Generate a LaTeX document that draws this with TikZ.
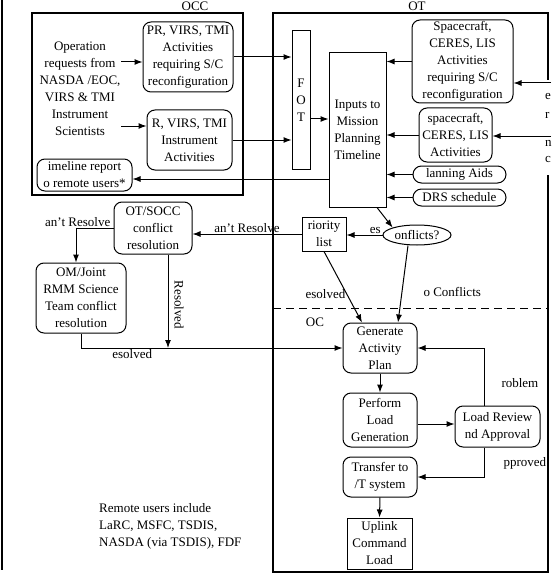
\documentclass[tikz,border=0pt]{standalone}
\usepackage{fontspec}
\setmainfont{Liberation Serif}
\usetikzlibrary{arrows.meta,calc,shapes.geometric}

\begin{document}
\begin{tikzpicture}[
    x=1pt, y=-1pt,
    >={Latex[length=8pt, width=6pt]},
    every node/.style={font=\fontsize{13}{17}\selectfont, inner sep=1pt},
    rbox/.style={draw, line width=1pt, rounded corners=8pt, align=center},
    sbox/.style={draw, line width=1pt, align=center},
    pill/.style={draw, line width=1pt, rounded corners=8.5pt, align=center, minimum width=93pt, minimum height=17pt, inner sep=0pt},
    frame/.style={line width=1.2pt},
    flow/.style={->, line width=1pt}
]

% Page
\useasboundingbox (0,0) rectangle (551,583);
\draw[frame] (2,0) -- (2,570);

% 1. OCC FRAME
\node[inner sep=0pt] (occtitle) at (195,6) {OCC};
\draw[frame] (32,13) rectangle (243,195);

\node[align=center] (opreq) at (80,89) {Operation\\requests from\\NASDA /EOC,\\VIRS \& TMI\\Instrument\\Scientists};
\coordinate (reqA) at (121,62);
\coordinate (reqB) at (121,126);

\node[rbox, minimum width=90pt, minimum height=70pt] (prsc) at (188,57) {PR, VIRS, TMI\\Activities\\requiring S/C\\reconfiguration};
\node[rbox, minimum width=85pt, minimum height=60pt] (prinst) at (189.5,140) {R, VIRS, TMI\\Instrument\\Activities};
\node[rbox, minimum width=95pt, minimum height=32pt] (tlrep) at (84.5,175) {imeline report\\o remote users*};

% 2. OT FRAME (right side broken by cut-off text)
\node[inner sep=0pt] (ottitle) at (417,6) {OT};
\draw[frame] (548,80) -- (548,13) -- (273,13) -- (273,572) -- (548,572) -- (548,175);
\node[anchor=west] (cutA) at (544,97) {e};
\node[anchor=west] (cutB) at (544,115) {r};
\node[anchor=west] (cutC) at (544,143) {n};
\node[anchor=west] (cutD) at (544,160) {c};
\coordinate (extA) at (551,83);
\coordinate (extB) at (551,136);

\node[sbox, minimum width=18pt, minimum height=138pt] (fot) at (301,100) {F\\O\\T};
\node[sbox, minimum width=57pt, minimum height=154pt] (inputs) at (357.5,130) {Inputs to\\Mission\\Planning\\Timeline};

\node[rbox, minimum width=101pt, minimum height=83pt] (sccr) at (462.5,61.5) {Spacecraft,\\CERES, LIS\\Activities\\requiring S/C\\reconfiguration};
\node[rbox, minimum width=73pt, minimum height=54pt] (scact) at (455.5,135) {spacecraft,\\CERES, LIS\\Activities};
\node[pill] (aids) at (459.5,174.5) {lanning Aids};
\node[pill] (drs) at (459.5,197.5) {DRS schedule};

\node[draw, line width=1pt, ellipse, minimum width=68pt, minimum height=20pt, inner sep=0pt] (conf) at (417,235) {onflicts?};
\node[sbox, minimum width=44pt, minimum height=34pt] (prio) at (324,234) {riority\\list};

% 3. CONFLICT RESOLUTION
\node[rbox, minimum width=78pt, minimum height=52pt] (socc) at (153,228) {OT/SOCC\\conflict\\resolution};
\node[rbox, minimum width=90pt, minimum height=70pt] (joint) at (81,298) {OM/Joint\\RMM Science\\Team conflict\\resolution};

% 4. OC SECTION
\draw[dashed, dash pattern=on 8pt off 5pt, line width=1pt] (273,308) -- (548,308);
\node (octitle) at (315,322) {OC};

\node[rbox, minimum width=74pt, minimum height=50pt] (gen) at (380,348) {Generate\\Activity\\Plan};
\node[rbox, minimum width=74pt, minimum height=54pt] (perf) at (380,420) {Perform\\Load\\Generation};
\node[rbox, minimum width=85pt, minimum height=41pt] (rev) at (497.5,426.5) {Load Review\\nd Approval};
\node[rbox, minimum width=74pt, minimum height=40pt] (xfer) at (380,477) {Transfer to\\/T system};
\node[sbox, minimum width=65pt, minimum height=51pt] (uplink) at (379.5,543.5) {Uplink\\Command\\Load};

\node[align=left, anchor=west] (remote) at (98,526) {Remote users include\\LaRC, MSFC, TSDIS,\\NASDA (via TSDIS), FDF};

% 5. CONNECTORS
\draw[flow] (reqA) -- (reqA -| prsc.west);
\draw[flow] (reqB) -- (reqB -| prinst.west);
\draw[flow] (prsc.east) -- (prsc.east -| fot.west);
\draw[flow] (prinst.east) -- (prinst.east -| fot.west);
\draw[flow] ([yshift=-19pt]fot.east) -- ([yshift=-19pt]fot.east -| inputs.west);

\draw[flow] (extA) -- (extA -| sccr.east);
\draw[flow] (extB) -- (extB -| scact.east);
\draw[flow] (sccr.west) -- (sccr.west -| inputs.east);
\draw[flow] (scact.west) -- (scact.west -| inputs.east);
\draw[flow] (aids.west) -- (aids.west -| inputs.east);
\draw[flow] (drs.west) -- (drs.west -| inputs.east);

\draw[flow] ([yshift=-49pt]inputs.west) -- ([yshift=-49pt]inputs.west -| tlrep.east);
\draw[flow] ([xshift=19.5pt]inputs.south) -- (conf.north west);

\draw[flow] (conf.west) -- (conf.west -| prio.east) node[pos=0.2, above] {es};
\draw[flow] (prio.west) -- (prio.west -| socc.east) node[midway, above] {an't Resolve};
\draw[flow] (socc.west) -| ([xshift=-5pt]joint.north) node[pos=0.45, above, xshift=-2pt] {an't Resolve};

\draw[flow] ([xshift=15pt]socc.south) -- ([xshift=15pt]socc.south |- gen.west);
\node[rotate=-90] (reslbl) at (179,305) {Resolved};
\draw[flow] (joint.south) |- (gen.west) node[pos=0.598, below] {esolved};

\draw[flow] (prio.south) -- ([xshift=-18pt]gen.north) node[pos=0.6, left] {esolved};
\draw[flow] ([xshift=-9pt]conf.south) -- ([xshift=18pt]gen.north) node[pos=0.6, right, xshift=20pt] {o Conflicts};

\draw[flow] (gen.south) -- (perf.north);
\draw[flow] ([yshift=-4pt]perf.east) -- ([yshift=-4pt]perf.east -| rev.west);
\draw[flow] ([xshift=-13.5pt]rev.north) |- (gen.east) node[pos=0.195, right, xshift=16pt] {roblem};
\draw[flow] ([xshift=-13.5pt]rev.south) |- (xfer.east) node[pos=0.27, right, xshift=18pt] {pproved};
\draw[flow] (xfer.south) -- (uplink.north);

\end{tikzpicture}
\end{document}
